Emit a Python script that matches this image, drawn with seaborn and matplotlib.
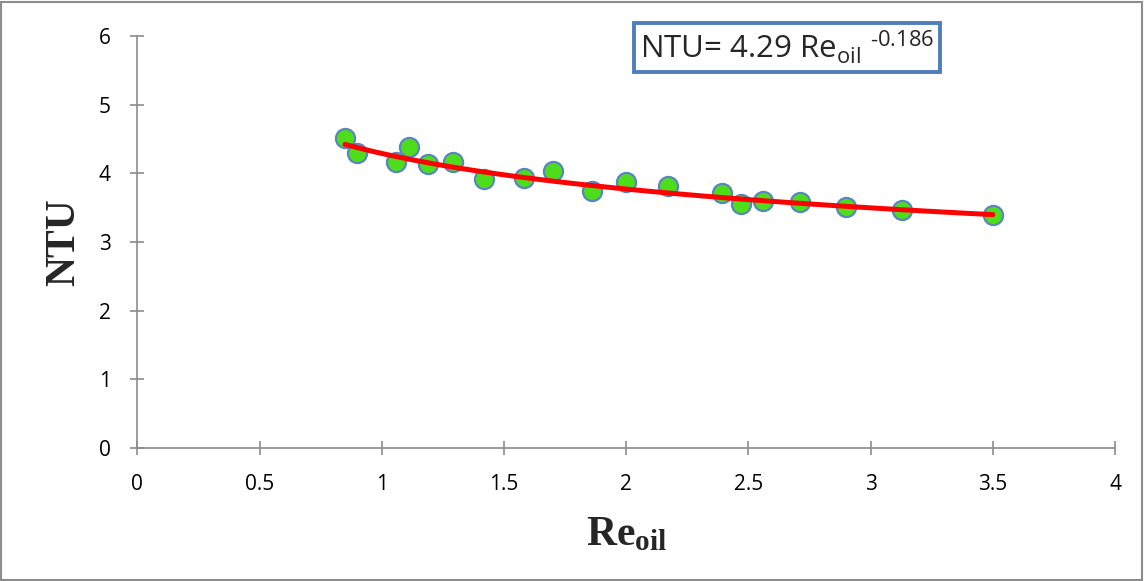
import numpy as np
import pandas as pd
import matplotlib.pyplot as plt
import seaborn as sns
from matplotlib.patches import Rectangle

# measured points (Re_oil, NTU)
re_oil = [0.85, 0.90, 1.06, 1.11, 1.19, 1.29, 1.42, 1.58, 1.70, 1.86,
          2.00, 2.17, 2.39, 2.47, 2.56, 2.71, 2.90, 3.13, 3.50]
ntu = [4.51, 4.29, 4.17, 4.38, 4.13, 4.16, 3.92, 3.93, 4.04, 3.74,
       3.87, 3.81, 3.72, 3.56, 3.60, 3.58, 3.51, 3.47, 3.40]

# power-law trendline shown in the box
coef_a = 4.29
coef_b = -0.186

df = pd.DataFrame({'Re': re_oil, 'NTU': ntu})
fit_x = np.linspace(min(re_oil), max(re_oil), 100)
fit = pd.DataFrame({'Re': fit_x, 'NTU': coef_a * fit_x ** coef_b})

sns.set_style('white')
plt.rcParams['font.family'] = ['Open Sans', 'DejaVu Sans']
plt.rcParams['mathtext.fontset'] = 'custom'
plt.rcParams['mathtext.rm'] = 'Liberation Serif'
plt.rcParams['mathtext.bf'] = 'Liberation Serif:bold'

fig = plt.figure(figsize=(11.44, 5.81), dpi=100)
ax = fig.add_axes([0.12, 0.229, 0.8547, 0.709])

sns.scatterplot(data=df, x='Re', y='NTU', ax=ax, s=190, color='#4ddd1b',
                edgecolor='#5a86c0', linewidth=1.6, zorder=2)
sns.lineplot(data=fit, x='Re', y='NTU', ax=ax, color='#ff0000', linewidth=3.6, zorder=3)

ax.set_xlim(0, 4)
ax.set_ylim(0, 6)
ax.set_xticks(np.arange(0, 4.01, 0.5))
ax.set_xticklabels(['0', '0.5', '1', '1.5', '2', '2.5', '3', '3.5', '4'])
ax.set_yticks(range(0, 7))

for s in ['top', 'right']:
    ax.spines[s].set_visible(False)
for s in ['left', 'bottom']:
    ax.spines[s].set_color('#8c8c8c')
    ax.spines[s].set_linewidth(1.2)
ax.tick_params(axis='both', bottom=True, left=True, direction='inout', length=10,
               width=1.2, color='#8c8c8c', labelsize=15, labelcolor='black')
ax.tick_params(axis='x', pad=14)
ax.tick_params(axis='y', pad=14)

ax.set_xlabel(r'$\mathbf{Re_{oil}}$', fontsize=30, labelpad=13)
ax.set_ylabel('NTU', fontsize=30, fontweight='bold', family='Liberation Serif', labelpad=11)

ax.text(0.514, 0.972, 'NTU= 4.29 Re$_{\\mathregular{oil}}$ $^{\\mathregular{\u20100.186}}$',
        transform=ax.transAxes, fontsize=22.5, va='center', ha='left',
        bbox=dict(boxstyle='square,pad=0.18', facecolor='white', edgecolor='#4f7fbb', linewidth=2.8))

fig.add_artist(Rectangle((0.001, 0.002), 0.997, 0.995, transform=fig.transFigure,
                         fill=False, edgecolor='#8c8c8c', linewidth=1.5))

fig.savefig('out.png', dpi=100)
